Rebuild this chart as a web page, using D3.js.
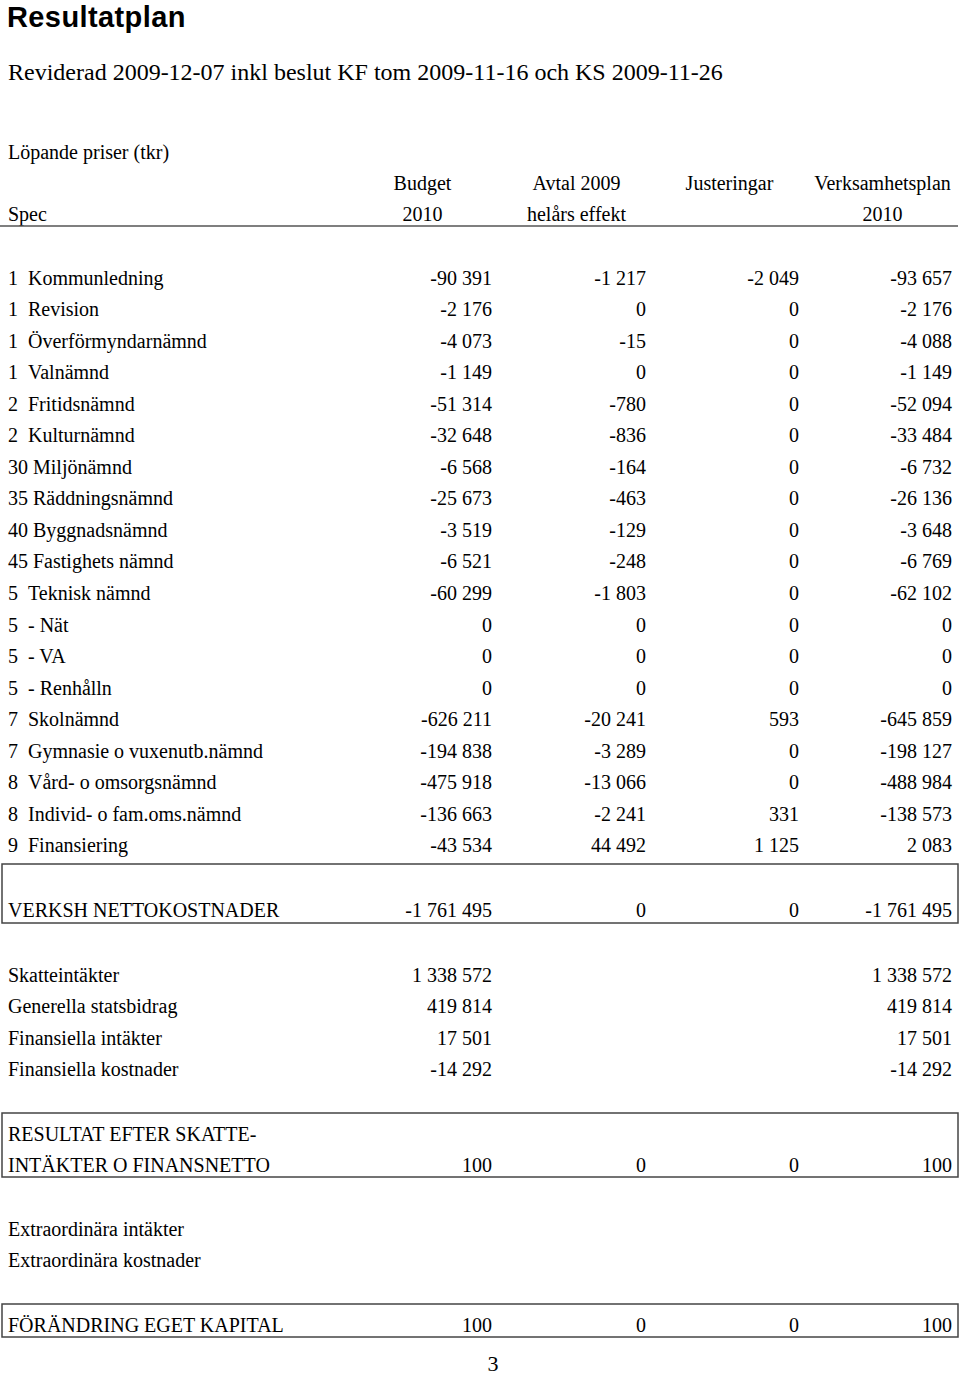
<!DOCTYPE html>
<html>
<head>
<meta charset="utf-8">
<script src="https://cdn.jsdelivr.net/npm/d3@7"></script>
<style>
  body { margin: 0; background: #fff; }
  svg { display: block; }
  text { font-family: "Liberation Serif", "Times New Roman", serif; fill: #000; }
</style>
</head>
<body>
<div id="chart"></div>
<script>
// table data
const codes = ['1', '1', '1', '1', '2', '2', '30', '35', '40', '45', '5', '5', '5', '5', '7', '7', '8', '8', '9'];
const names = ['Kommunledning', 'Revision', 'Överförmyndarnämnd', 'Valnämnd', 'Fritidsnämnd', 'Kulturnämnd',
  'Miljönämnd', 'Räddningsnämnd', 'Byggnadsnämnd', 'Fastighets nämnd', 'Teknisk nämnd', '- Nät', '- VA',
  '- Renhålln', 'Skolnämnd', 'Gymnasie o vuxenutb.nämnd', 'Vård- o omsorgsnämnd', 'Individ- o fam.oms.nämnd', 'Finansiering'];
const budget = [-90391, -2176, -4073, -1149, -51314, -32648, -6568, -25673, -3519, -6521, -60299, 0, 0, 0, -626211, -194838, -475918, -136663, -43534];
const avtal = [-1217, 0, -15, 0, -780, -836, -164, -463, -129, -248, -1803, 0, 0, 0, -20241, -3289, -13066, -2241, 44492];
const justeringar = [-2049, 0, 0, 0, 0, 0, 0, 0, 0, 0, 0, 0, 0, 0, 593, 0, 0, 331, 1125];
const verksamhetsplan = [-93657, -2176, -4088, -1149, -52094, -33484, -6732, -26136, -3648, -6769, -62102, 0, 0, 0, -645859, -198127, -488984, -138573, 2083];

const columns = ['budget', 'avtal', 'justeringar', 'verksamhetsplan'];
const header1 = ['Budget', 'Avtal 2009', 'Justeringar', 'Verksamhetsplan'];
const header2 = ['2010', 'helårs effekt', '', '2010'];

// summary rows below the main table
const nettoValues = [-1761495, 0, 0, -1761495];
const incomeNames = ['Skatteintäkter', 'Generella statsbidrag', 'Finansiella intäkter', 'Finansiella kostnader'];
const incomeBudget = [1338572, 419814, 17501, -14292];
const incomePlan = [1338572, 419814, 17501, -14292];
const resultatValues = [100, 0, 0, 100];
const extraNames = ['Extraordinära intäkter', 'Extraordinära kostnader'];
const kapitalValues = [100, 0, 0, 100];

const width = 960;
const height = 1377;

const svg = d3.select('#chart')
  .append('svg')
  .attr('width', width)
  .attr('height', height);

const fmt = d3.formatLocale({ decimal: ',', thousands: ' ', grouping: [3], currency: ['', ''], minus: '-' }).format(',d');

// right edges of the number columns
const x = d3.scaleOrdinal().domain(columns).range([492, 646, 799, 952]);
const colWidth = 153;

// row centres of the main block
const y = d3.scaleLinear().domain([0, 1]).range([278, 278 + 31.55]);

const fs = 20;
const base = 6.5; // offset from row centre to baseline

// title
svg.append('text')
  .attr('x', 7).attr('y', 27)
  .style('font-family', '"Liberation Sans", Arial, sans-serif')
  .style('font-weight', 'bold')
  .style('font-size', '29px')
  .style('letter-spacing', '0.4px')
  .text('Resultatplan');

svg.append('text')
  .attr('x', 8).attr('y', 80)
  .style('font-size', '24px')
  .text('Reviderad 2009-12-07 inkl beslut KF tom 2009-11-16 och KS 2009-11-26');

svg.append('text')
  .attr('x', 8).attr('y', 152 + base)
  .style('font-size', fs + 'px')
  .text('Löpande priser (tkr)');

// header
columns.forEach((c, i) => {
  const cx = x(c) - colWidth / 2 + 7;
  svg.append('text')
    .attr('x', cx).attr('y', 183 + base)
    .attr('text-anchor', 'middle')
    .style('font-size', fs + 'px')
    .text(header1[i]);
  svg.append('text')
    .attr('x', cx).attr('y', 214 + base)
    .attr('text-anchor', 'middle')
    .style('font-size', fs + 'px')
    .text(header2[i]);
});
svg.append('text')
  .attr('x', 8).attr('y', 214 + base)
  .style('font-size', fs + 'px')
  .text('Spec');

svg.append('line')
  .attr('x1', 0).attr('x2', 958)
  .attr('y1', 226).attr('y2', 226)
  .attr('stroke', '#555').attr('stroke-width', 1.5);

// main rows
const rows = codes.map((code, i) => ({
  code, name: names[i],
  budget: budget[i], avtal: avtal[i], justeringar: justeringar[i], verksamhetsplan: verksamhetsplan[i]
}));

const rowG = svg.selectAll('g.row')
  .data(rows)
  .enter()
  .append('g')
  .attr('class', 'row')
  .attr('transform', (d, i) => `translate(0,${y(i) + base})`);

rowG.append('text')
  .attr('x', 8)
  .style('font-size', fs + 'px')
  .text(d => d.code);

rowG.append('text')
  .attr('x', d => d.code.length === 1 ? 28 : 33)
  .style('font-size', fs + 'px')
  .text(d => d.name);

columns.forEach(c => {
  rowG.append('text')
    .attr('x', x(c))
    .attr('text-anchor', 'end')
    .style('font-size', fs + 'px')
    .text(d => fmt(d[c]));
});

// helpers for the lower block
function label(txt, cy) {
  svg.append('text')
    .attr('x', 8).attr('y', cy + base)
    .style('font-size', fs + 'px')
    .text(txt);
}
function values(vals, cy, cols) {
  vals.forEach((v, i) => {
    if (v === null) return;
    svg.append('text')
      .attr('x', x(cols[i])).attr('y', cy + base)
      .attr('text-anchor', 'end')
      .style('font-size', fs + 'px')
      .text(fmt(v));
  });
}
function box(y0, y1) {
  svg.append('rect')
    .attr('x', 2).attr('y', y0)
    .attr('width', 956).attr('height', y1 - y0)
    .attr('fill', 'none')
    .attr('stroke', '#444').attr('stroke-width', 1.5);
}

box(864, 923);
label('VERKSH NETTOKOSTNADER', 910);
values(nettoValues, 910, columns);

incomeNames.forEach((n, i) => {
  const cy = 975 + i * 31.6;
  label(n, cy);
  values([incomeBudget[i], incomePlan[i]], cy, ['budget', 'verksamhetsplan']);
});

box(1113, 1177);
label('RESULTAT EFTER SKATTE-', 1134);
label('INTÄKTER O FINANSNETTO', 1165);
values(resultatValues, 1165, columns);

extraNames.forEach((n, i) => label(n, 1229 + i * 31.6));

box(1304, 1337);
label('FÖRÄNDRING EGET KAPITAL', 1325);
values(kapitalValues, 1325, columns);

// page number
svg.append('text')
  .attr('x', 493).attr('y', 1371)
  .attr('text-anchor', 'middle')
  .style('font-size', '22px')
  .text('3');
</script>
</body>
</html>
